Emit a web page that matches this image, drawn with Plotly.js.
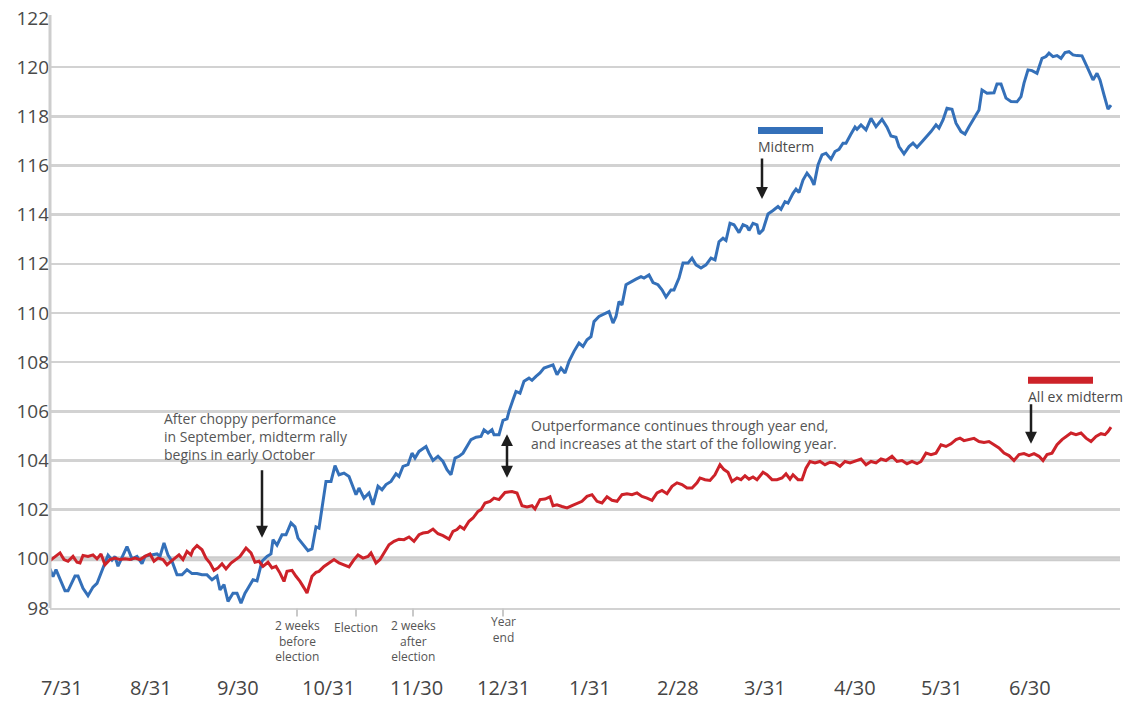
<!DOCTYPE html>
<html>
<head>
<meta charset="utf-8">
<script src="https://cdn.plot.ly/plotly-3.0.1.min.js"></script>
<style>html,body{margin:0;padding:0;background:#fff;}#chart{width:1125px;height:701px;}</style>
</head>
<body>
<div id="chart"></div>
<script>
// ---------- DATA (trading-day offset from 7/31, index value) ----------
const midtermDay = [0,0.75,1.5,2.5,3.75,4.5,6.25,7,8.25,9.5,10.75,11.75,13,14.5,15.5,16.25,17,18.25,19.25,20.5,21.75,23,23.75,25,26.75,27.5,28.5,29.5,30.5,31.75,33,34.25,35.5,36.75,38,39.25,40.5,41.75,42.5,43.5,44.5,45.75,46.75,47.75,48.75,49.5,50.75,51.75,53,54.25,55.25,55.75,56.75,58,59,60.25,61.25,62,63.25,64.5,65.5,66.5,67.25,68,69,70.25,71.25,72.25,73.5,74.75,75.75,76.5,77.25,78.5,79.75,80.75,82,83,84,85.25,86.5,87.25,88.25,89.5,90.5,91.25,92.25,94,94.75,95.75,97,98.25,99.25,100.25,101.25,102.25,103.25,104.25,105.25,106.5,107.75,108.5,109.5,110.5,111,112.25,112.75,113.25,114.25,114.75,115.75,116.5,117.5,118.5,119.75,120.5,121.5,122.5,123.5,124.75,125.75,126.75,127.75,128.75,129.75,131,132.25,133.25,134.25,135.25,136,137.25,138.5,139.75,140.75,141.5,142.25,143,144,145.25,146.5,147.75,148.5,149.75,150.75,152,153,154,155.25,156,157.25,158.25,159.5,160.5,161.5,162.75,164,165.25,166.25,167.25,168.25,169,170,171,172.25,173.25,174.25,174.75,175.75,176.75,177.25,178.25,179.5,180.75,182,182.75,183.75,184.5,185.75,186.5,187.25,188.25,189.25,190.25,191,192,193,194,195.25,196.25,197.25,198.25,199,200.25,201.25,201.75,202.75,204,205.25,206.5,208,209.25,210.25,211.5,212.25,213.5,214.75,215.75,216.75,218,219.25,220.25,221.5,222.25,223.25,224.25,225.5,226.5,227.75,228.75,229.75,230.75,232.25,233,234.25,236,236.75,237.75,239,240.25,241.75,242.75,243.5,244.5,245.5,246.75,247.5,248,249,249.75,250.75,251.75,252.75,253.75,254.75,255.75,256.75,258,259.25,260.25,260.75,261.75,262.5,263.5,264.5,265.25];
const midtermValue = [99.6,99.27,99.56,99.15,98.7,98.7,99.3,99.3,98.8,98.5,98.85,99.0,99.56,100.15,99.95,100.1,99.7,100.15,100.5,100.0,100.1,99.8,100.1,100.15,100.2,100.1,100.65,100.15,99.9,99.35,99.35,99.56,99.4,99.4,99.35,99.35,99.15,99.3,98.74,98.95,98.27,98.6,98.6,98.2,98.6,98.8,99.15,99.1,99.9,100.1,100.2,100.78,100.56,100.98,100.98,101.46,101.3,100.84,100.56,100.33,100.4,101.3,101.25,102.1,103.15,103.15,103.79,103.42,103.49,103.35,102.95,102.61,102.88,102.47,102.68,102.2,102.95,102.81,103.02,103.15,103.46,103.35,103.76,103.83,104.3,104.1,104.37,104.57,104.3,104.0,104.17,103.96,103.63,103.42,104.1,104.17,104.3,104.57,104.85,104.95,104.98,105.25,105.12,105.25,105.05,105.05,105.39,105.63,105.69,106.0,106.47,106.81,106.74,107.22,107.35,107.26,107.42,107.56,107.76,107.85,107.89,107.49,107.76,107.56,108.03,108.44,108.78,108.64,108.91,109.04,109.65,109.86,109.97,110.06,109.59,109.86,110.47,110.33,111.15,111.28,111.38,111.48,111.42,111.55,111.24,111.15,110.94,110.65,110.94,110.94,111.42,112.03,112.03,112.23,111.96,111.83,111.96,112.23,112.16,112.9,113.04,112.95,113.65,113.59,113.27,113.59,113.52,113.36,113.65,113.59,113.22,113.38,114.03,114.17,114.33,114.22,114.53,114.47,114.87,115.04,114.9,115.41,115.69,115.48,115.21,116.02,116.43,116.5,116.26,116.57,116.66,116.91,116.91,117.28,117.56,117.47,117.65,117.45,117.92,117.58,117.88,117.56,117.2,117.15,116.77,116.47,116.77,116.91,116.74,116.97,117.18,117.38,117.65,117.52,117.85,118.33,118.29,117.72,117.38,117.28,117.58,117.83,118.26,119.07,118.94,118.96,119.32,119.32,118.74,118.6,118.59,118.8,119.35,119.89,119.86,119.75,120.09,120.36,120.43,120.57,120.43,120.47,120.36,120.59,120.63,120.5,120.47,120.46,120.02,119.68,119.48,119.75,119.48,118.87,118.29,118.46];

const allExDay = [0,1.25,2.5,3.5,4.5,5.75,6.75,7.5,8.25,9.5,10.75,11.75,12.75,13.75,15,16.25,17.5,18.75,20,21.25,22.5,23.75,25,26,27,28.25,29.25,30.25,31.25,32.25,33.25,34.25,35.25,35.75,36.75,38,39,40,41,42,43,44,45.25,46.5,47.5,49,50.25,51.25,52.25,53.25,54.5,55.5,56.5,57.5,58.5,59.25,60.5,61.5,62.5,63.5,64.25,65.5,66.5,67.25,68.5,69.75,71,72.25,73.5,74.75,76,77,78.25,79.5,80.25,81.5,82.5,83.5,84.75,86,87.25,88.5,89.75,91,92.25,93.25,94.5,95.75,97,98.25,99.75,100.75,101.75,102.5,103.5,104.75,105.75,107,107.75,108.75,110,111,112.25,113.75,115.5,116.75,118,119.25,120.5,121.25,122.5,123.75,125,125.75,126.75,128,129.25,130.5,131.75,133,134.25,135.5,136.75,138,139.25,140.5,141.75,143,144.25,145.5,146.75,148,149.25,150.5,151.75,153,154.25,155.5,156.75,158,159.25,160.5,161.75,162.5,163.75,165,166.25,167.5,168.5,169.5,170.5,171.75,172.75,173.75,174.75,175.75,176.75,178.25,179.25,180.5,181.75,183,184,185,185.75,187,188,189,190,191.25,192.5,193.75,195,196.25,197.5,198.75,200,201.25,202.75,204,205.25,206.5,207.75,209,210.5,211.75,213,214.25,215.5,216.75,217.75,219,220.25,221.5,222.75,224,225.25,226.5,227.5,228.5,229.75,231,232.25,233.5,234.75,236,237.25,238.5,239.75,241,242.25,243.5,244.75,246,247.25,248.25,249.25,250.5,251.75,253,254.25,255.25,256.5,257.75,259,260.25,261.5,262.75,263.75,264.5,265.25];
const allExValue = [99.93,100.08,100.24,99.97,99.9,100.1,99.86,99.83,100.14,100.1,100.16,100.0,100.2,99.76,99.97,100.03,99.97,100.0,99.97,100.03,99.97,100.1,100.2,99.9,100.03,99.97,99.76,99.9,100.03,100.16,99.97,100.3,100.16,100.37,100.54,100.37,100.03,99.83,99.53,99.63,99.8,99.59,99.83,99.97,100.1,100.44,100.24,99.86,99.9,99.69,99.86,99.63,99.69,99.42,99.08,99.49,99.53,99.29,99.08,98.82,98.61,99.29,99.45,99.49,99.69,99.83,99.97,99.83,99.76,99.67,99.97,100.16,100.03,100.1,100.24,99.83,99.97,100.24,100.57,100.71,100.8,100.78,100.89,100.71,100.98,101.05,101.08,101.21,101.02,100.94,100.8,101.12,101.19,101.32,101.21,101.53,101.66,101.93,102.0,102.27,102.34,102.47,102.41,102.7,102.74,102.68,102.16,102.11,102.16,102.03,102.41,102.43,102.52,102.16,102.2,102.13,102.07,102.16,102.24,102.34,102.54,102.61,102.34,102.27,102.52,102.38,102.34,102.61,102.65,102.61,102.68,102.54,102.47,102.38,102.68,102.78,102.65,102.95,103.09,103.02,102.88,102.88,103.09,103.29,103.22,103.19,103.42,103.83,103.63,103.52,103.15,103.29,103.22,103.38,103.24,103.33,103.22,103.52,103.42,103.22,103.22,103.29,103.46,103.24,103.42,103.22,103.22,103.69,103.96,103.9,103.96,103.83,103.93,103.9,103.76,103.96,103.9,103.96,104.06,103.83,103.96,103.9,104.06,104.0,104.17,103.96,104.0,103.87,103.96,103.87,103.96,104.3,104.24,104.3,104.64,104.57,104.68,104.85,104.91,104.81,104.87,104.9,104.77,104.73,104.77,104.64,104.51,104.3,104.2,104.0,104.24,104.28,104.2,104.28,104.17,104.0,104.24,104.3,104.64,104.85,104.98,105.12,105.05,105.12,104.91,104.77,104.98,105.09,105.05,105.18,105.36];

const seriesNames = ["Midterm", "All ex midterm"];
const monthLabels = ["7/31","8/31","9/30","10/31","11/30","12/31","1/31","2/28","3/31","4/30","5/31","6/30"];
const monthDay = [3,25.25,47,69.5,91.5,113.25,135,157,178.75,201.25,223,245];
const eventLabels = ["2 weeks<br>before<br>election","Election","2 weeks<br>after<br>election","Year<br>end"];
const eventDay = [61.75,76.5,90.75,113.25];
const yTicks = [98,100,102,104,106,108,110,112,114,116,118,120,122];

// ---------- LAYOUT HELPERS ----------
const W = 1125, H = 701;
const L = 50, R = 5, T = 18, B = 92.6;
const X_MAX = 267.5;
const plotH = H - T - B;
const FONT = "Open Sans, Noto Sans, sans-serif";
const TXT = "#555555";
const BLUE = "#3470b9", RED = "#cd2229";
function py2paper(py){ return (H - B - py) / plotH; }
function px2paper(px){ return (px - L) / (W - L - R); }

const annotations = [];
const shapes = [];

// month labels
monthLabels.forEach((m,i)=>{
  annotations.push({xref:"x", x:monthDay[i], yref:"paper", y:py2paper(688), text:m, showarrow:false,
    xanchor:"center", yanchor:"middle", borderpad:0, font:{family:FONT, size:20, color:"#454545"}});
});

// event ticks and labels
eventLabels.forEach((lab,i)=>{
  shapes.push({type:"line", xref:"x", yref:"paper", x0:eventDay[i], x1:eventDay[i],
    y0:py2paper(609), y1:py2paper(617), line:{color:"#c9c9c9", width:2}});
  const n = lab.split("<br>").length;
  const centerPy = n === 2 ? 630 : (n === 3 ? 641 : 628);
  annotations.push({xref:"x", x:eventDay[i], yref:"paper", y:py2paper(centerPy), text:lab,
    showarrow:false, xanchor:"center", yanchor:"middle", align:"center", borderpad:0,
    font:{family:FONT, size:12, color:TXT}});
});

// multi-line notes
function note(text, px, pyCenter){
  annotations.push({xref:"paper", x:px2paper(px), yref:"paper", y:py2paper(pyCenter), text:text,
    showarrow:false, xanchor:"left", yanchor:"middle", align:"left", borderpad:0,
    font:{family:FONT, size:14, color:TXT}});
}
note("After choppy performance<br>in September, midterm rally<br>begins in early October", 163, 437);
note("Outperformance continues through year end,<br>and increases at the start of the following year.", 530, 434.5);

// arrows
function arrow(px, pyTail, pyTip, both){
  annotations.push({xref:"paper", x:px2paper(px), yref:"paper", y:py2paper(pyTip), text:"",
    showarrow:true, ax:0, ay:-(pyTip-pyTail), arrowhead:2, startarrowhead:2, arrowsize:0.95, startarrowsize:0.95,
    arrowwidth:2.5, arrowcolor:"#1e1e1e", arrowside: both ? "end+start" : "end", standoff:0, startstandoff:0});
}
arrow(262, 469, 538, false);
arrow(507, 433, 478, true);
arrow(762, 157, 199, false);
arrow(1031, 403, 444, false);

// legend swatches + names
function legendItem(name, color, px, pyBar){
  shapes.push({type:"rect", xref:"paper", yref:"paper", x0:px2paper(px), x1:px2paper(px+65),
    y0:py2paper(pyBar+7), y1:py2paper(pyBar), fillcolor:color, line:{width:0}});
  annotations.push({xref:"paper", x:px2paper(px - 1), yref:"paper", y:py2paper(pyBar+20), text:name,
    showarrow:false, xanchor:"left", yanchor:"middle", borderpad:0, font:{family:FONT, size:14, color:"#4a4a4a"}});
}
legendItem(seriesNames[0], BLUE, 758, 127);
legendItem(seriesNames[1], RED, 1028, 377);

// heavy 100 baseline
shapes.push({type:"line", xref:"paper", yref:"y", x0:0, x1:1, y0:100, y1:100, layer:"below",
  line:{color:"#cccccc", width:5}});
// left axis rule extending slightly above the plot
shapes.push({type:"line", xref:"paper", yref:"paper", x0:0, x1:0, y0:0, y1:py2paper(15),
  line:{color:"#cdcdcd", width:3}});

const traces = [
  {x:midtermDay, y:midtermValue, name:seriesNames[0], type:"scatter", mode:"lines",
   line:{color:BLUE, width:3}, hoverinfo:"skip"},
  {x:allExDay, y:allExValue, name:seriesNames[1], type:"scatter", mode:"lines",
   line:{color:RED, width:3}, hoverinfo:"skip"}
];

const layout = {
  width:W, height:H,
  margin:{l:L, r:R, t:T, b:B},
  paper_bgcolor:"#ffffff", plot_bgcolor:"#ffffff",
  showlegend:false,
  font:{family:FONT},
  xaxis:{range:[0,X_MAX], showgrid:false, zeroline:false, showticklabels:false, ticks:"",
    showline:true, linecolor:"#d2d2d2", linewidth:2, fixedrange:true},
  yaxis:{range:[98,122], tickvals:yTicks, ticktext:yTicks.map(String), showgrid:true, gridcolor:"#d2d2d2", gridwidth:2.5,
    zeroline:false, showline:false, ticks:"",
    tickfont:{family:FONT, size:19, color:"#4a4a4a"}, fixedrange:true},
  annotations:annotations,
  shapes:shapes
};

Plotly.newPlot("chart", traces, layout, {displayModeBar:false, staticPlot:true});
</script>
</body>
</html>
